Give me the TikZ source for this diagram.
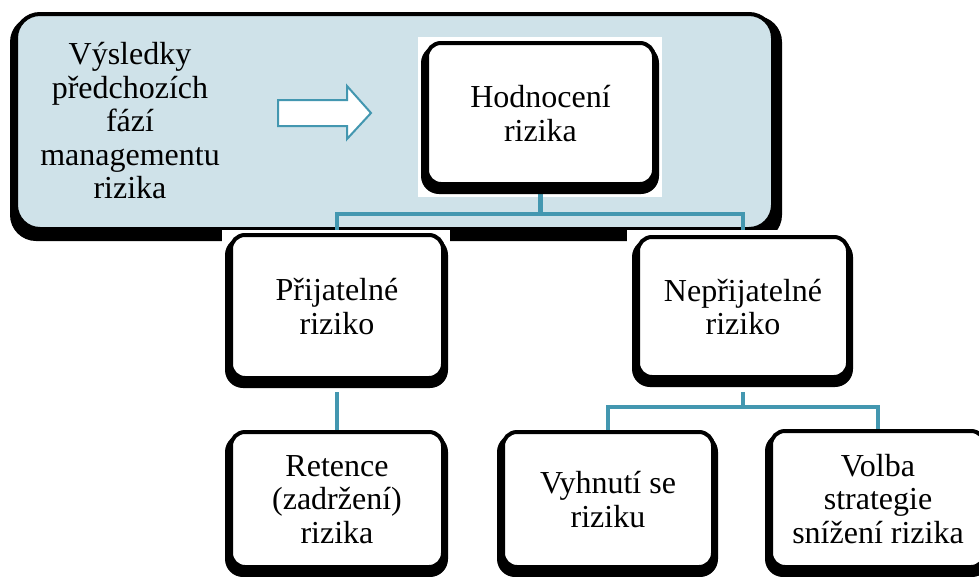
\documentclass[tikz,border=0pt]{standalone}
\usepackage{fontspec}
\setmainfont{Liberation Serif}
\pgfdeclarelayer{bg}
\pgfdeclarelayer{links}
\pgfsetlayers{bg,links,main}
\definecolor{panelblue}{HTML}{CFE2E9}
\definecolor{linkteal}{HTML}{4397B0}
\tikzset{
  labelfont/.style={font=\fontsize{32}{33.5}\selectfont},
  boxlabel/.style={draw=black, line width=4pt, rounded corners=14pt, fill=white,
    align=center, inner sep=0pt, labelfont},
  link/.style={draw=linkteal, line width=4.5pt},
}
% #1 name, #2 left, #3 top, #4 right, #5 bottom (outer extent incl. shadow), #6 text
\newcommand\riskbox[6]{%
  \pgfmathsetmacro\rbw{#4-#2-11}%
  \pgfmathsetmacro\rbh{#5-#3-12}%
  \fill[black, rounded corners=18pt] (#2,{#3+4}) rectangle (#4,#5);
  \node[boxlabel, minimum width=\rbw pt, minimum height=\rbh pt] (#1)
    at ({(#2+#4+1)/2},{(#3+#5-8)/2}) {#6};
}
\begin{document}
\begin{tikzpicture}[x=1pt,y=-1pt]
\useasboundingbox (0,0) rectangle (979,576);

% blue panel with the input phases and the block arrow
\begin{pgfonlayer}{bg}
  \fill[black, rounded corners=26pt] (10,16) rectangle (782,241);
  \draw[black, line width=4pt, fill=panelblue, rounded corners=24pt] (16,14) rectangle (773,229);
  \node[labelfont, align=center, inner sep=0pt] (phases) at (130,121)
    {Výsledky\\předchozích\\fází\\managementu\\rizika};
  \draw[linkteal, line width=2pt, fill=white]
    (278,100) -- (347,100) -- (347,86) -- (371,113) -- (347,139) -- (347,126) -- (278,126) -- cycle;
  \fill[white] (418,37) rectangle (662,197);
\end{pgfonlayer}

\riskbox{hod}{421}{41}{659}{194}{Hodnocení\\rizika}

% white backing of the second level
\fill[white] (222,230) rectangle (450,392);
\fill[white] (627,230) rectangle (858,392);

\riskbox{prij}{225}{233}{448}{388}{Přijatelné\\riziko}
\riskbox{neprij}{632}{235}{853}{387}{Nepřijatelné\\riziko}

\riskbox{ret}{225}{430}{448}{577}{Retence\\(zadržení)\\rizika}
\riskbox{vyh}{497}{430}{718}{577}{Vyhnutí se\\riziku}
\riskbox{volba}{765}{429}{990}{577}{Volba\\strategie\\snížení rizika}

% tree connectors
\begin{pgfonlayer}{links}
  \draw[link] (hod.south) -- ++(0,28) -| (prij.north);
  \draw[link] (hod.south) -- ++(0,28) -| (neprij.north);
  \draw[link] (prij.south) -- (ret.north);
  \draw[link] (neprij.south) -- ++(0,28) -| (vyh.north);
  \draw[link] (neprij.south) -- ++(0,28) -| (volba.north);
\end{pgfonlayer}
\end{tikzpicture}
\end{document}
